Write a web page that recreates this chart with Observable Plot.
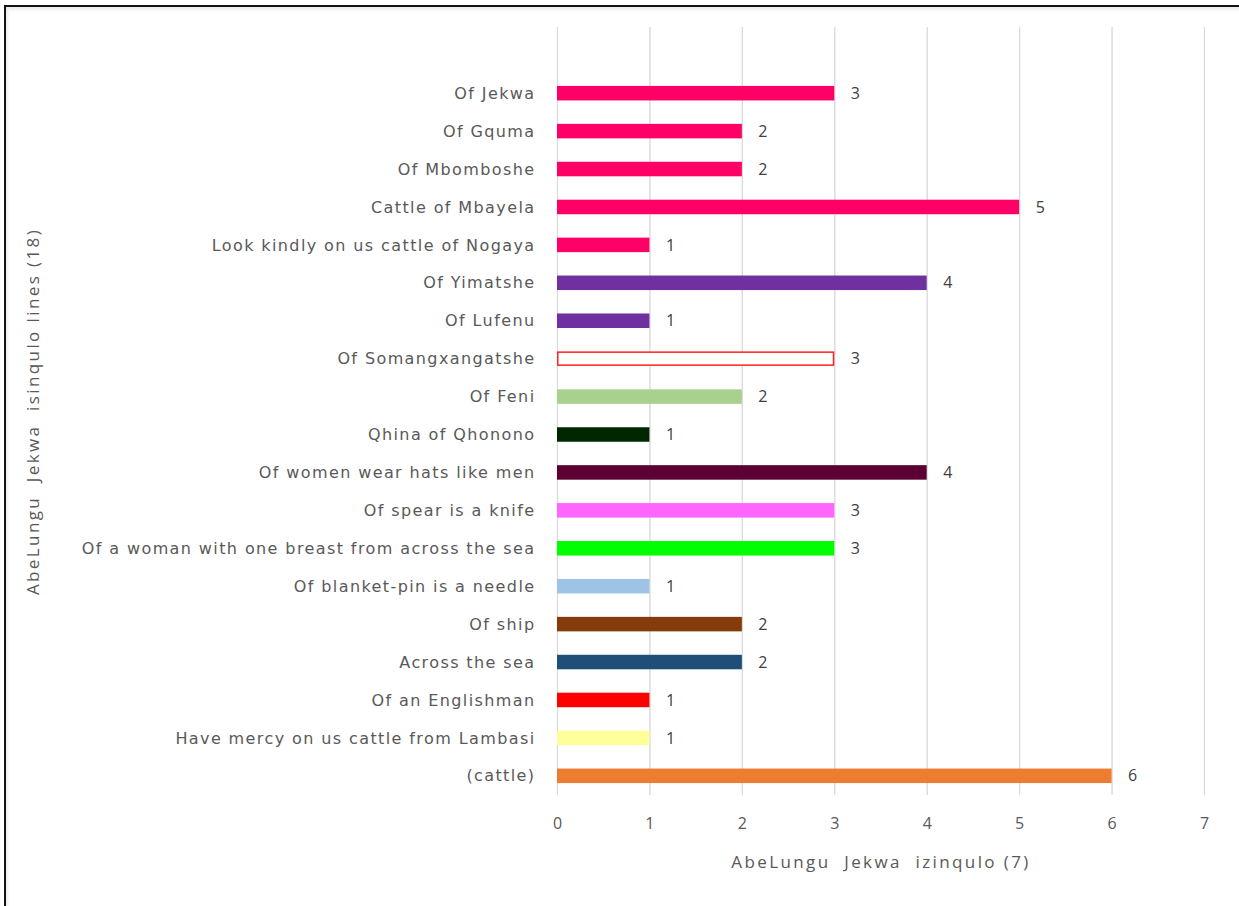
<!DOCTYPE html>
<html><head><meta charset="utf-8">
<script src="https://cdn.jsdelivr.net/npm/d3@7"></script>
<script src="https://cdn.jsdelivr.net/npm/@observablehq/plot@0.6"></script>
<style>
body{margin:0;background:#fff;width:1239px;height:906px;overflow:hidden;}
#frame{position:absolute;left:4px;top:5px;width:1240px;height:910px;border-top:2px solid #111;border-left:2px solid #111;box-shadow:inset 2px 3px 3px rgba(0,0,0,0.08);}
#chart{position:absolute;left:0;top:0;}
</style></head><body>
<div id="frame"></div>
<div id="chart"></div>
<script>
const categories = [
  "Of Jekwa",
  "Of Gquma",
  "Of Mbomboshe",
  "Cattle of Mbayela",
  "Look kindly on us cattle of Nogaya",
  "Of Yimatshe",
  "Of Lufenu",
  "Of Somangxangatshe",
  "Of Feni",
  "Qhina of Qhonono",
  "Of women wear hats like men",
  "Of spear is a knife",
  "Of a woman with one breast from across the sea",
  "Of blanket-pin is a needle",
  "Of ship",
  "Across the sea",
  "Of an Englishman",
  "Have mercy on us cattle from Lambasi",
  "(cattle)"
];
const values = [3, 2, 2, 5, 1, 4, 1, 3, 2, 1, 4, 3, 3, 1, 2, 2, 1, 1, 6];
const xTicks = [0, 1, 2, 3, 4, 5, 6, 7];
const xTitle = "AbeLungu  Jekwa  izinqulo (7)";
const yTitle = "AbeLungu  Jekwa  isinqulo lines (18)";

// per-bar styling (fill and outline)
const barFills = ["#ff0066","#ff0066","#ff0066","#ff0066","#ff0066","#7030a0","#7030a0","#ffffff","#a9d18e","#002800","#5c0033","#ff66ff","#00ff00","#9dc3e6","#843c0c","#1f4e79","#ff0000","#ffff99","#ed7d31"];
const barStrokes = barFills.map((c, i) => i === 7 ? "#ff2020" : c);

const data = categories.map((c, i) => ({cat: c, value: values[i], fill: barFills[i], stroke: barStrokes[i]}));

const chart = Plot.plot({
  width: 1239,
  height: 906,
  marginLeft: 557,
  marginRight: 35,
  marginTop: 27,
  marginBottom: 111,
  style: {fontFamily: "'Open Sans', sans-serif", fontSize: "16px", color: "#595959", background: "transparent"},
  x: {domain: [0, 7], ticks: xTicks, tickFormat: d3.format("d"), grid: true, tickSize: 0, tickPadding: 22, label: xTitle, labelAnchor: "center", labelArrow: "none", labelOffset: 72},
  y: {domain: categories, round: false, paddingInner: 0.657, paddingOuter: 0.15, insetTop: 54, insetBottom: 7, tickSize: 0, tickPadding: 22, label: yTitle, labelAnchor: "center", labelArrow: "none", labelOffset: 531},
  marks: [
    Plot.gridX(xTicks, {stroke: "#d9d9d9", strokeOpacity: 1, strokeWidth: 1.2}),
    Plot.barX(data, {x: "value", y: "cat", fill: "fill", stroke: "stroke", strokeWidth: 1.5, insetLeft: 0.75, insetRight: 0.75}),
    Plot.text(data, {x: "value", y: "cat", text: d => String(d.value), textAnchor: "start", dx: 16, fill: "#404040", fontSize: 16})
  ]
});
const svg = d3.select(chart);
svg.selectAll('g[aria-label="y-axis tick label"] text')
  .style("font-family", "'DejaVu Sans', sans-serif").style("font-size", "16px").style("letter-spacing", "1.4px");
svg.selectAll('g[aria-label="y-axis label"] text, g[aria-label="x-axis label"] text')
  .style("font-size", "17px").style("letter-spacing", "2.4px");
document.getElementById("chart").appendChild(chart);
</script>
</body></html>
